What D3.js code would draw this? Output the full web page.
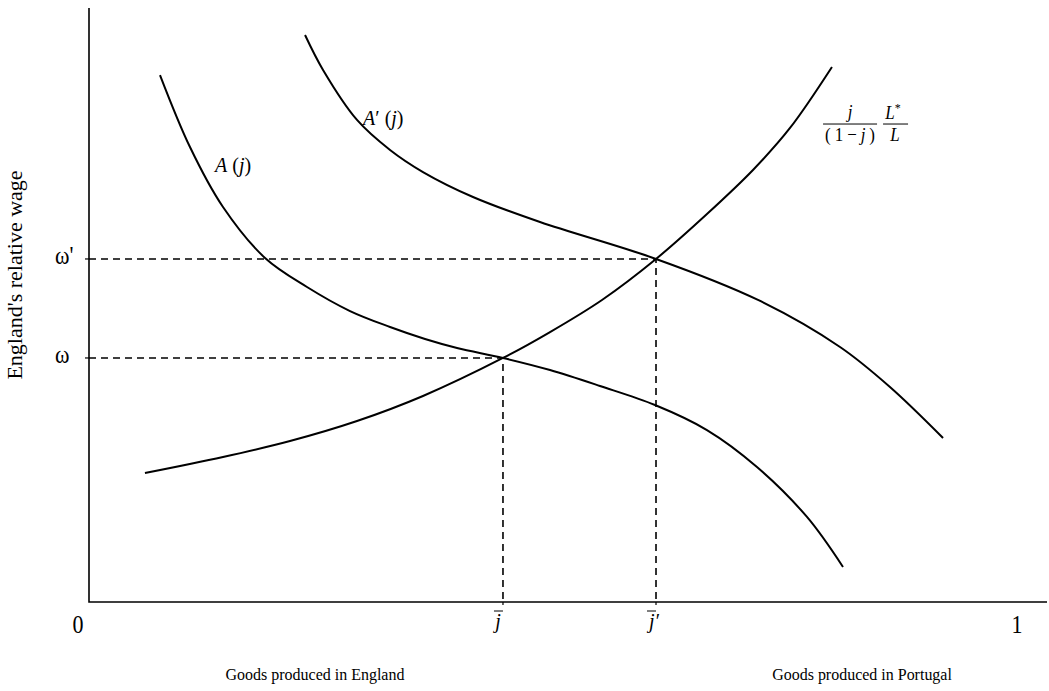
<!DOCTYPE html>
<html>
<head>
<meta charset="utf-8">
<script src="https://cdnjs.cloudflare.com/ajax/libs/d3/7.8.5/d3.min.js"></script>
<style>
  body { margin: 0; background: #fff; }
  text { font-family: "Liberation Serif", "Times New Roman", serif; fill: #000; }
  .math { font-style: italic; }
</style>
</head>
<body>
<div class="draw"></div>
<script>
const width = 1049
const height = 691
const originX = 89
const originY = 602
// the source figure is a little taller than wide, so glyphs get stretched too
const textStretch = 1.1

// relative supply j/(1-j) L*/L
const supplyJ = [0.0603, 0.1444, 0.2166, 0.2888, 0.3599, 0.4461, 0.4968, 0.5528, 0.6110, 0.6659, 0.7155, 0.7554, 0.8006]
const supplyW = [1.303, 1.465, 1.626, 1.828, 2.081, 2.465, 2.727, 3.051, 3.465, 3.919, 4.364, 4.788, 5.404]

// A(j)
const aJ = [0.0765, 0.1088, 0.1444, 0.1897, 0.2349, 0.2813, 0.3244, 0.3621, 0.3966, 0.4461, 0.4968, 0.5506, 0.6099, 0.6659, 0.7198, 0.7737, 0.8125]
const aW = [5.323, 4.596, 3.990, 3.475, 3.182, 2.939, 2.778, 2.657, 2.566, 2.465, 2.343, 2.182, 1.990, 1.737, 1.364, 0.859, 0.354]

// A'(j)
const aPrimeJ = [0.2328, 0.2522, 0.2888, 0.3244, 0.3599, 0.4138, 0.4860, 0.6110, 0.7209, 0.8093, 0.8631, 0.9203]
const aPrimeW = [5.727, 5.374, 4.869, 4.566, 4.343, 4.091, 3.838, 3.465, 3.051, 2.576, 2.172, 1.657]

// equilibria: (j bar, omega) and (j bar', omega')
const eqJ = [0.4461, 0.6110]
const eqW = [2.465, 3.465]
const eqWLabels = ["ω", "ω'"]
const eqJPrime = ["", "′"]

const xTickLabels = ["0", "1"]
const xAreaLabels = ["Goods produced in England", "Goods produced in Portugal"]
const xAreaCenters = [0.2435, 0.8330]
const yTitle = "England's relative wage"

let x = d3.scaleLinear().domain([0, 1]).range([originX, 1017])
let y = d3.scaleLinear().domain([0, 6]).range([originY, 8])

let svg = d3.select("div.draw")
    .append("svg")
    .attr("width", width)
    .attr("height", height)

let line = d3.line()
    .x(d => x(d[0]))
    .y(d => y(d[1]))
    .curve(d3.curveCatmullRom.alpha(0.5))

function zipCurve(js, ws){
  return js.map((j, i) => [j, ws[i]])
}

// text placed at (px,py) with the vertical stretch applied
function addText(parent, px, py, size, extra){
  return parent.append("text")
    .attr("transform", "translate(" + px + "," + py + ") scale(1," + textStretch + ")" + (extra || ""))
    .style("font-size", size + "px")
}

// dashed guides from the axes to each equilibrium
eqJ.forEach((j, i) => {
  svg.append("path")
    .attr("d", "M" + originX + "," + y(eqW[i]) + "H" + x(j) + "V" + originY)
    .attr("fill", "none")
    .attr("stroke", "#000")
    .attr("stroke-width", 1.6)
    .attr("stroke-dasharray", "7,5")
})

// curves
const curves = [zipCurve(supplyJ, supplyW), zipCurve(aJ, aW), zipCurve(aPrimeJ, aPrimeW)]
svg.selectAll("path.curve")
  .data(curves)
  .enter()
  .append("path")
  .attr("class", "curve")
  .attr("d", line)
  .attr("fill", "none")
  .attr("stroke", "#000")
  .attr("stroke-width", 2)

// axes
svg.append("path")
  .attr("d", "M" + originX + ",8V" + originY + "H" + (width - 2))
  .attr("fill", "none")
  .attr("stroke", "#000")
  .attr("stroke-width", 1.6)

// small ticks
eqW.forEach(w => {
  svg.append("line")
    .attr("x1", originX - 4).attr("x2", originX)
    .attr("y1", y(w)).attr("y2", y(w))
    .attr("stroke", "#000").attr("stroke-width", 1.2)
})
eqJ.forEach(j => {
  svg.append("line")
    .attr("x1", x(j)).attr("x2", x(j))
    .attr("y1", originY).attr("y2", originY + 3)
    .attr("stroke", "#000").attr("stroke-width", 1.2)
})

// y tick labels
eqW.forEach((w, i) => {
  addText(svg, 55, y(w) + 5, 22).text(eqWLabels[i])
})

// j bar labels
eqJ.forEach((j, i) => {
  let g = svg.append("g").attr("transform", "translate(" + (x(j) - 5) + "," + (originY + 26) + ")")
  addText(g, i ? 3 : 0, 0, 20)
    .attr("class", "math")
    .attr("text-anchor", "middle")
    .text("j" + eqJPrime[i])
  g.append("line")
    .attr("x1", -4).attr("x2", 5)
    .attr("y1", -17).attr("y2", -17)
    .attr("stroke", "#000").attr("stroke-width", 1)
})

// 0 and 1
xTickLabels.forEach((d, i) => {
  addText(svg, i === 0 ? x(0) - 11 : x(1), 633, 22)
    .attr("text-anchor", "middle")
    .text(d)
})

// region labels under the axis
xAreaLabels.forEach((d, i) => {
  addText(svg, x(xAreaCenters[i]), 680, 16)
    .attr("text-anchor", "middle")
    .text(d)
})

// y title
addText(svg, 22, 275, 20, " rotate(-90)")
  .attr("text-anchor", "middle")
  .text(yTitle)

// curve labels
function mathLabel(px, py, prime){
  let t = addText(svg, px, py, 20)
  t.append("tspan").attr("class", "math").text("A")
  if(prime) t.append("tspan").text("′")
  t.append("tspan").text(" (")
  t.append("tspan").attr("class", "math").text("j")
  t.append("tspan").text(")")
}
mathLabel(x(0.1358), y(4.343), false)
mathLabel(x(0.2953), y(4.818), true)

// supply label: j/(1-j) * L*/L
let fx = x(0.7910)
let fy = y(4.828)
let frac = svg.append("g").attr("transform", "translate(" + fx + "," + fy + ")")
frac.append("line").attr("x1", 0).attr("x2", 54).attr("y1", 0).attr("y2", 0)
  .attr("stroke", "#000").attr("stroke-width", 1)
addText(frac, 27, -6, 17).attr("class", "math")
  .attr("text-anchor", "middle").text("j")
let den = addText(frac, 2, 17, 17)
  .attr("textLength", 50).attr("lengthAdjust", "spacing")
den.append("tspan").text("(1−")
den.append("tspan").attr("class", "math").text("j")
den.append("tspan").text(")")
frac.append("line").attr("x1", 60).attr("x2", 85).attr("y1", 0).attr("y2", 0)
  .attr("stroke", "#000").attr("stroke-width", 1)
let num2 = addText(frac, 70, -5, 17).attr("text-anchor", "middle")
num2.append("tspan").attr("class", "math").text("L")
num2.append("tspan").attr("dy", -6).style("font-size", "12px").text("*")
addText(frac, 72, 17, 17).attr("class", "math")
  .attr("text-anchor", "middle").text("L")
</script>
</body>
</html>
